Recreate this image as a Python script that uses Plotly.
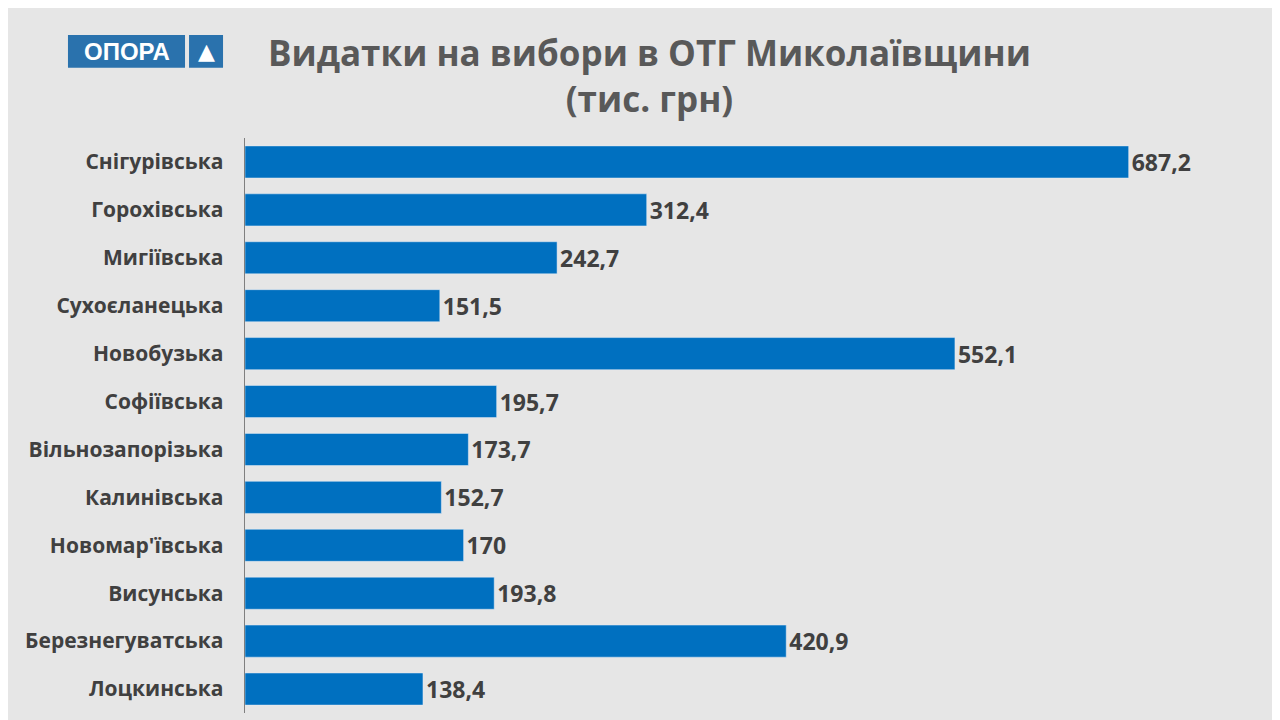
import plotly.graph_objects as go

communities = ["Снігурівська", "Горохівська", "Мигіївська", "Сухоєланецька", "Новобузька",
               "Софіївська", "Вільнозапорізька", "Калинівська", "Новомар'ївська", "Висунська",
               "Березнегуватська", "Лоцкинська"]
spending = [687.2, 312.4, 242.7, 151.5, 552.1, 195.7, 173.7, 152.7, 170, 193.8, 420.9, 138.4]
labels = ["<b>" + f"{v:g}".replace(".", ",") + "</b>" for v in spending]

fig = go.Figure(go.Bar(
    x=spending, y=communities, orientation="h",
    marker_color="#0070c0", text=labels, textposition="outside",
    textfont=dict(size=23, color="#404040", family="Open Sans"),
    cliponaxis=False,
))

fig.update_layout(
    width=1280, height=720,
    paper_bgcolor="#e6e6e6", plot_bgcolor="#e6e6e6",
    margin=dict(l=237, r=40, t=130, b=15),
    bargap=0.33,
    showlegend=False,
    font=dict(family="Open Sans", color="#404040"),
    xaxis=dict(range=[0, 780], visible=False),
    yaxis=dict(autorange="reversed", showline=True, linecolor="#7f7f7f", linewidth=1,
               ticks="", ticksuffix="   ",
               tickfont=dict(size=21, color="#404040", family="Open Sans", weight="bold")),
    shapes=[
        dict(type="rect", xref="paper", yref="paper", x0=-0.1765, x1=-0.0598, y0=1.122, y1=1.179,
             fillcolor="#2a72ad", line_width=0, layer="above"),
        dict(type="rect", xref="paper", yref="paper", x0=-0.0558, x1=-0.0219, y0=1.122, y1=1.179,
             fillcolor="#2a72ad", line_width=0, layer="above"),
    ],
    annotations=[
        dict(text="<b>Видатки на вибори в ОТГ Миколаївщини<br>(тис. грн)</b>",
             xref="paper", yref="paper", x=0.403, y=1.108, xanchor="center", yanchor="middle",
             showarrow=False, font=dict(size=35, color="#595959", family="Open Sans")),
        dict(text="<b>ОПОРА</b>", xref="paper", yref="paper", x=-0.118, y=1.1505,
             xanchor="center", yanchor="middle", showarrow=False,
             font=dict(size=24, color="white", family="Liberation Sans")),
        dict(text="▲", xref="paper", yref="paper", x=-0.0388, y=1.1505,
             xanchor="center", yanchor="middle", showarrow=False,
             font=dict(size=22, color="white", family="DejaVu Sans")),
    ],
)

fig.write_html("out.html")
